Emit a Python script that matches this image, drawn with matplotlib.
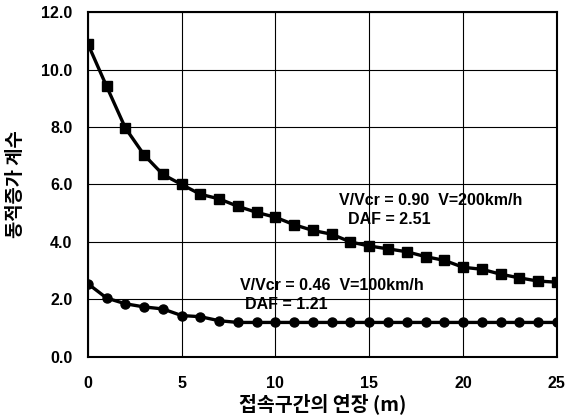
import numpy as np
import matplotlib
matplotlib.use("Agg")
import matplotlib.pyplot as plt

plt.rcParams['font.family'] = ['Liberation Sans', 'Noto Sans CJK KR', 'DejaVu Sans']

length = list(range(0, 26))
daf_200 = [10.9, 9.42, 7.97, 7.03, 6.35, 6.0, 5.66, 5.5, 5.24, 5.03,
           4.86, 4.6, 4.4, 4.27, 4.0, 3.86, 3.76, 3.66, 3.49, 3.36,
           3.12, 3.05, 2.88, 2.75, 2.64, 2.6]
daf_100 = [2.55, 2.05, 1.85, 1.74, 1.67, 1.44, 1.4, 1.26, 1.2, 1.2,
           1.2, 1.2, 1.2, 1.2, 1.2, 1.2, 1.2, 1.2, 1.2, 1.2,
           1.2, 1.2, 1.2, 1.2, 1.2, 1.2]
xticks = [0, 5, 10, 15, 20, 25]
yticks = [0, 2, 4, 6, 8, 10, 12]

fig = plt.figure(figsize=(5.7, 4.16), dpi=100)
ax = fig.add_axes([0.154, 0.142, 0.823, 0.829])

ax.plot(length, daf_200, color="black", lw=2.4, marker="s", ms=6.5, zorder=3)
ax.plot(length, daf_100, color="black", lw=2.4, marker="o", ms=6.5, zorder=3)

ax.set_xlim(0, 25)
ax.set_ylim(0, 12)
ax.set_xticks(xticks)
ax.set_yticks(yticks)
ax.set_yticklabels([f"{v:.1f}" for v in yticks])
ax.tick_params(length=0, labelsize=11.5)
ax.tick_params(axis="x", pad=14)
ax.tick_params(axis="y", pad=11)
for lbl in ax.get_xticklabels() + ax.get_yticklabels():
    lbl.set_fontweight("bold")
ax.grid(True, color="black", lw=0.8)
for s in ax.spines.values():
    s.set_linewidth(1.5)

ax.set_xlabel("접속구간의 연장 (m)", fontsize=14, fontweight="bold",
              family=['Noto Sans CJK KR', 'DejaVu Sans'], labelpad=1)
ax.set_ylabel("동적증가 계수", fontsize=13.5, fontweight="bold",
              family=['Noto Sans CJK KR', 'DejaVu Sans'])
ax.yaxis.set_label_coords(-0.133, 0.5)

ax.text(13.4, 5.28, "V/Vcr = 0.90  V=200km/h", fontsize=11.5, fontweight="bold")
ax.text(13.85, 4.62, "DAF = 2.51", fontsize=11.5, fontweight="bold")
ax.text(8.1, 2.34, "V/Vcr = 0.46  V=100km/h", fontsize=11.5, fontweight="bold")
ax.text(8.37, 1.67, "DAF = 1.21", fontsize=11.5, fontweight="bold")

fig.savefig("out.png", dpi=100)
